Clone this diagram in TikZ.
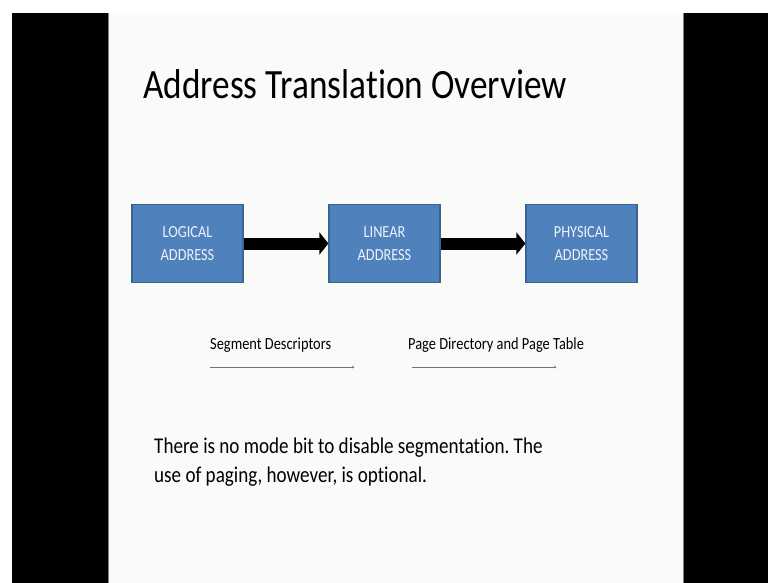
\documentclass[tikz,border=0pt]{standalone}
\usepackage{fontspec}
\setmainfont{Carlito}[Ligatures=NoCommon]
\usetikzlibrary{arrows.meta}
\frenchspacing
\definecolor{slidebg}{HTML}{FAFBF9}
\definecolor{boxfill}{HTML}{4F81BD}
\definecolor{boxline}{HTML}{3A6494}
\definecolor{boxtext}{HTML}{EEF2F8}
% slide text is drawn a little taller than wide
\newcommand{\tallText}[1]{\scalebox{1}[1.18]{#1}}
\tikzset{
  addrbox/.style={draw=boxline, line width=1.2pt, fill=boxfill, text=boxtext,
    minimum width=111pt, minimum height=78pt, inner sep=0pt,
    align=center, font=\fontsize{14.3}{23}\selectfont},
  bigarrow/.style={line width=12pt, -{Triangle[width=22pt,length=9pt]}},
  thinarrow/.style={draw=black!55, line width=0.5pt, -{To[length=2pt,width=3pt]}},
  label/.style={inner sep=0pt, font=\fontsize{14.4}{16}\selectfont, anchor=base west},
}
\begin{document}
\begin{tikzpicture}[x=1pt, y=-1pt]
  \useasboundingbox (0,0) rectangle (768,583);
  % frame: white strip, black bars and the slide
  \fill[white] (0,0) rectangle (768,583);
  \fill[black] (12,13) rectangle (768,583);
  \fill[slidebg] (108,13) rectangle (684,583);
  \draw[gray, line width=0.6pt] (108.3,13) -- (108.3,583);
  \draw[gray, line width=0.6pt] (683.7,13) -- (683.7,583);

  % title
  \node[inner sep=0pt, anchor=base west, font=\fontsize{35.3}{40}\selectfont]
    (title) at (143,99) {\tallText{Address Translation Overview}};

  % address boxes
  \node[addrbox] (logical)  at (187.5,243.5) {\tallText{LOGICAL}\\\tallText{ADDRESS}};
  \node[addrbox] (linear)   at (384.5,243.5) {\tallText{LINEAR}\\\tallText{ADDRESS}};
  \node[addrbox] (physical) at (581.5,243.5) {\tallText{PHYSICAL}\\\tallText{ADDRESS}};

  % translation arrows
  \draw[bigarrow] (logical.east) -- (linear.west);
  \draw[bigarrow] (linear.east) -- (physical.west);

  % mechanism labels
  \node[label] (seglbl)  at (210,349) {\tallText{Segment Descriptors}};
  \node[label] (pagelbl) at (408,349) {\tallText{Page Directory and Page Table}};

  \coordinate (s1) at (210,367);
  \coordinate (s2) at (354,367);
  \coordinate (p1) at (412,367);
  \coordinate (p2) at (556,367);
  \draw[thinarrow] (s1) -- (s2);
  \draw[thinarrow] (p1) -- (p2);

  % note (anchored on the baseline of its last line)
  \node[inner sep=0pt, anchor=base west, align=left,
        font=\fontsize{19.1}{29}\selectfont] (note) at (154,482)
    {\tallText{There is no mode bit to disable segmentation. The}\\
     \tallText{use of paging, however, is optional.}};
\end{tikzpicture}
\end{document}
